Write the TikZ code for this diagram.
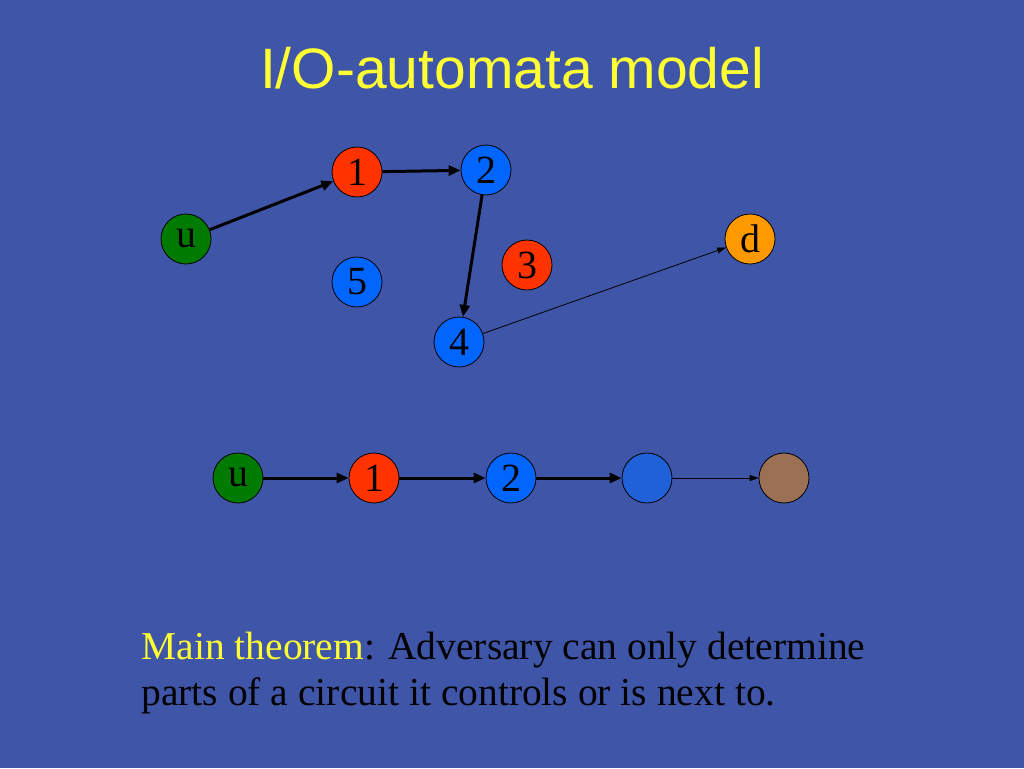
\documentclass[tikz,border=0pt]{standalone}
\usepackage{fontspec}
\setmainfont{Liberation Serif}
\newfontfamily\titlefont{Liberation Sans}
\usetikzlibrary{arrows.meta}
\definecolor{bg}{HTML}{3F55A8}
\definecolor{nred}{HTML}{FF3300}
\definecolor{nblue}{HTML}{0066FF}
\definecolor{nblue2}{HTML}{2060D8}
\definecolor{ngreen}{HTML}{007A00}
\definecolor{norange}{HTML}{FF9900}
\definecolor{nbrown}{HTML}{9C7055}
\definecolor{ttl}{HTML}{FFFF33}
\tikzset{
 vtx/.style={circle,draw=black,line width=0.8pt,minimum size=50pt,inner sep=0pt,font=\fontsize{40}{40}\selectfont},
 thick arr/.style={line width=3pt,-{Triangle[length=12pt,width=10pt]}},
 thin arr/.style={line width=0.8pt,-{Triangle[length=9pt,width=6pt]}}
}
\begin{document}
\begin{tikzpicture}[x=1pt,y=-1pt]
\fill[bg] (0,0) rectangle (1024,768);
\useasboundingbox (0,0) rectangle (1024,768);
\node[text=ttl,font=\titlefont\fontsize{57}{57}\selectfont] (title) at (512,68) {I/O-automata model};
\node[vtx,fill=nred] (a1) at (357,172) {1};
\node[vtx,fill=nblue] (a2) at (486,170) {2};
\node[vtx,fill=ngreen] (au) at (186,239) {u};
\node[vtx,fill=norange] (ad) at (750,239) {d};
\node[vtx,fill=nred] (a3) at (527,265) {3};
\node[vtx,fill=nblue] (a5) at (357,282) {5};
\node[vtx,fill=nblue] (a4) at (459,342) {4};
\draw[thick arr] (au) -- (a1);
\draw[thick arr] (a1) -- (a2);
\draw[thick arr] (a2) -- (a4);
\draw[thin arr] (a4) -- (ad);
\node[vtx,fill=ngreen] (bu) at (238,478) {u};
\node[vtx,fill=nred] (b1) at (374,478) {1};
\node[vtx,fill=nblue] (b2) at (511,478) {2};
\node[vtx,fill=nblue2] (b3) at (647,478) {};
\node[vtx,fill=nbrown] (b4) at (784,478) {};
\draw[thick arr] (bu) -- (b1);
\draw[thick arr] (b1) -- (b2);
\draw[thick arr] (b2) -- (b3);
\draw[thin arr] (b3) -- (b4);
\node[anchor=base west,font=\fontsize{39.5}{39.5}\selectfont,text=black] (t1) at (138,659) {\textcolor{ttl}{Main theorem}: Adversary can only determine};
\node[anchor=base west,font=\fontsize{39.5}{39.5}\selectfont,text=black] (t2) at (138,705) {parts of a circuit it controls or is next to.};
\end{tikzpicture}
\end{document}
